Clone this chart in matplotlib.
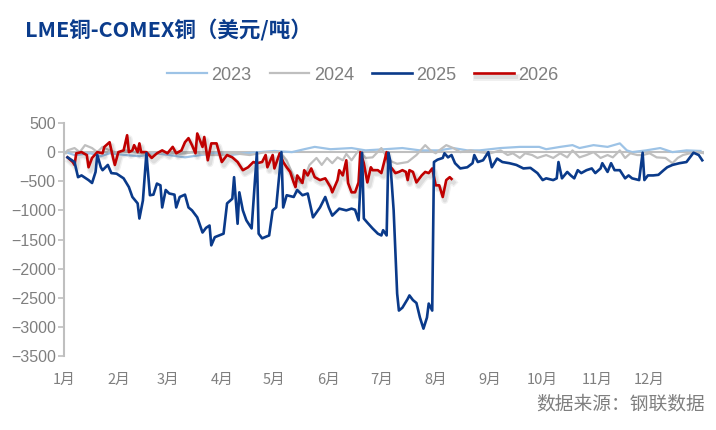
import matplotlib
matplotlib.use("Agg")
import matplotlib.pyplot as plt
import matplotlib.patheffects as pe

plt.rcParams['font.family'] = ['Liberation Sans', 'Noto Sans CJK SC', 'DejaVu Sans']
plt.rcParams['axes.unicode_minus'] = True

# day of year (0 = 1 Jan) and spread in USD/t
days_2023 = [1, 6, 15, 21, 26, 35, 43, 52, 60, 69, 78, 86, 95, 103, 112, 120, 130, 137, 143, 152,
             164, 172, 183, 193, 203, 214, 222, 230, 237, 249, 260, 264, 271, 275, 283, 290, 294,
             302, 310, 317, 321, 324, 332, 340, 347, 355, 363]
vals_2023 = [0, -50, -20, -70, -20, -50, -70, -20, -50, -90, -50, -20, -50, -20, 0, 20, 0, 50, 90, 50,
             70, 30, 50, 70, 30, 30, 70, 30, 30, 70, 90, 90, 90, 50, 90, 120, 70,
             120, 90, 150, 30, 0, 30, 70, 0, 30, 20]

days_2024 = [1, 2, 6, 9, 12, 16, 19, 22, 26, 31, 35, 40, 49, 58, 66, 75, 83, 89, 97, 106, 115, 123,
             127, 129, 131, 135, 137, 140, 144, 147, 150, 153, 156, 159, 161, 164, 168, 172, 176,
             181, 185, 190, 196, 201, 206, 209, 212, 214, 218, 222, 226, 232, 237, 243, 249, 253,
             256, 260, 263, 267, 270, 275, 279, 283, 287, 290, 294, 298, 302, 306, 310, 313, 317,
             320, 323, 327, 330, 334, 338, 343, 347, 350, 353, 357, 361, 365]
vals_2024 = [-20, 30, 70, 0, 120, 70, 0, 90, 30, -20, 30, 0, -50, 0, -30, 0, -50, -50, -20, -50, 0, 0,
             -140, -280, -430, -530, -450, -220, -100, -220, -100, -190, -90, -140, -30, -140, 30, -100, -90,
             70, -140, -200, -170, -50, 120, 30, -20, 30, 120, 70, 0, 30, 0, -20, 30, -50,
             -20, -100, -20, -50, -100, -50, -100, -20, -90, 30, -90, -50, 0, -100, -50, -90, 30,
             -100, -20, -50, -50, -20, -90, -100, -190, -100, -50, -20, 0, -20]

days_2025 = [2, 6, 8, 10, 14, 16, 18, 19, 21, 22, 25, 27, 30, 34, 37, 39, 42, 43, 45, 47, 49, 51, 53,
             55, 56, 58, 60, 63, 64, 66, 69, 71, 73, 76, 79, 81, 83, 84, 86, 91, 93, 96, 97, 99, 100,
             102, 104, 107, 108, 110, 111, 113, 117, 119, 121, 124, 125, 127, 131, 133, 136, 139,
             142, 146, 149, 151, 153, 157, 161, 164, 166, 168, 170, 171, 173, 176, 179, 181, 182,
             184, 185, 186, 188, 190, 191, 193, 196, 197, 199, 201, 203, 205, 207, 208, 210, 211,
             213, 216, 217, 219, 221, 223, 226, 230, 233, 234, 236, 239, 242, 244, 247, 250, 254,
             258, 262, 266, 270, 273, 275, 279, 281, 282, 284, 287, 289, 291, 293, 295, 298, 301,
             303, 306, 307, 310, 312, 314, 317, 320, 322, 324, 328, 330, 331, 333, 336, 339, 342,
             344, 347, 351, 355, 357, 359, 362, 364]
vals_2025 = [-90, -170, -430, -400, -480, -530, -340, -50, -260, -310, -220, -360, -370, -450, -600,
             -770, -880, -1140, -830, -20, -740, -730, -540, -570, -950, -650, -710, -730, -950,
             -770, -730, -950, -1000, -1120, -1380, -1300, -1260, -1600, -1460, -1400, -880, -800,
             -430, -1230, -690, -1000, -1170, -1310, -880, -10, -1400, -1480, -1430, -1000, -950,
             0, -950, -740, -770, -650, -740, -710, -1120, -950, -770, -950, -1090, -970, -1000,
             -970, -990, -1170, -10, -1140, -1210, -1310, -1400, -1430, -1340, -1430, -10, -140,
             -1000, -2430, -2720, -2670, -2520, -2460, -2540, -2590, -2840, -3030, -2840, -2600,
             -2720, -170, -130, -100, -20, -90, -50, -190, -280, -260, -190, -50, -170, -140, 0,
             -260, -110, -170, -190, -220, -280, -270, -360, -480, -450, -480, -450, -170, -450,
             -340, -400, -450, -310, -360, -310, -280, -360, -280, -190, -340, -190, -310, -310,
             -450, -400, -450, -480, -10, -480, -400, -400, -390, -310, -260, -220, -190, -170,
             -90, -10, -50, -140]

days_2026 = [2, 5, 6, 7, 10, 13, 14, 16, 19, 22, 23, 26, 28, 29, 31, 34, 36, 37, 39, 40, 42, 43, 44,
             47, 50, 53, 56, 59, 62, 64, 67, 69, 71, 73, 75, 76, 79, 80, 82, 84, 87, 90, 93, 96, 99,
             102, 105, 108, 110, 113, 115, 116, 119, 120, 123, 125, 127, 129, 131, 132, 133, 136,
             137, 139, 141, 143, 146, 149, 152, 153, 156, 157, 159, 161, 162, 164, 166, 168, 169,
             171, 173, 175, 176, 179, 181, 184, 185, 187, 189, 191, 193, 195, 196, 197, 199, 201,
             204, 206, 208, 210, 212, 214, 216, 218, 220, 221]
vals_2026 = [-90, -170, -220, -20, 0, -50, -260, -100, 0, -20, 90, 170, -100, -220, 0, 30, 290, 0, 30,
             120, 0, 150, 0, 0, -100, -20, 30, -20, 90, -20, 30, 170, 240, 120, -20, 320, 90, 260,
             -140, 150, 150, -170, -50, -90, -170, -310, -260, -170, -190, -170, -50, -260, -50,
             -280, -20, -170, -260, -340, -520, -600, -400, -530, -310, -400, -280, -430, -480,
             -450, -600, -690, -480, -310, -400, -140, -530, -690, -690, -520, 0, -190, -520, -260,
             -310, -310, -360, 0, -220, -280, -360, -340, -310, -340, -480, -310, -340, -520, -400,
             -340, -360, -280, -570, -570, -770, -480, -430, -460]

years = ['2023', '2024', '2025', '2026']
month_starts = [0, 31, 59, 90, 120, 151, 181, 212, 243, 273, 304, 334]
month_labels = [f'{m}月' for m in range(1, 13)]
y_ticks = list(range(500, -4000, -500))

c2023, c2024, c2025, c2026 = '#9DC3E6', '#BFBFBF', '#0A3A8A', '#C00000'
axis_gray = '#BFBFBF'
text_gray = '#7F7F7F'

fig = plt.figure(figsize=(7.16, 4.30), dpi=100)
ax = fig.add_axes([64 / 716, 1 - 356 / 430, 640 / 716, 233 / 430])

ax.axhline(0, color=axis_gray, lw=1.5, zorder=1)
l23, = ax.plot(days_2023, vals_2023, color=c2023, lw=1.6, zorder=2)
l24, = ax.plot(days_2024, vals_2024, color=c2024, lw=1.6, zorder=3)
# soft drop shadow under the 2026 line
shadow = [pe.SimpleLineShadow(offset=(1.5, -2.5), shadow_color='#000000', alpha=0.06, linewidth=5),
          pe.SimpleLineShadow(offset=(1.5, -2.5), shadow_color='#000000', alpha=0.08, linewidth=3),
          pe.Normal()]
l26, = ax.plot(days_2026, vals_2026, color=c2026, lw=1.9, zorder=4, path_effects=shadow)
l25, = ax.plot(days_2025, vals_2025, color=c2025, lw=1.9, zorder=5)

ax.set_xlim(0, 365)
ax.set_ylim(-3500, 500)
ax.set_yticks(y_ticks)
ax.set_yticklabels([str(v).replace('-', '\u2212') for v in y_ticks])
ax.set_xticks(month_starts)
ax.set_xticklabels(month_labels)

for s in ['top', 'right', 'bottom']:
    ax.spines[s].set_visible(False)
ax.spines['left'].set_color(axis_gray)
ax.spines['left'].set_linewidth(1.5)
ax.tick_params(axis='y', colors=axis_gray, labelcolor=text_gray, labelsize=11.5, length=4, width=1.2,
               direction='out', pad=2)
ax.tick_params(axis='x', length=0, labelcolor=text_gray, labelsize=10.5, pad=12)
for lab in ax.get_xticklabels():
    lab.set_family(['Noto Sans CJK SC', 'DejaVu Sans'])

fig.text(25 / 716, 1 - 30 / 430, 'LME铜-COMEX铜（美元/吨）', color='#0B3C8C', fontsize=15.5,
         fontweight='bold', va='center', ha='left', family=['Noto Sans CJK SC', 'DejaVu Sans'])

fig.legend([l23, l24, l25, l26], years, loc='center', bbox_to_anchor=(363 / 716, 1 - 75 / 430),
           ncol=4, frameon=False, handlelength=2.2, handletextpad=0.25, columnspacing=1.0,
           labelcolor=text_gray, prop={'family': 'Liberation Sans', 'size': 13})

fig.text(705 / 716, 1 - 404 / 430, '数据来源：钢联数据', color=text_gray, fontsize=13.5,
         ha='right', va='center', family=['Noto Sans CJK SC', 'DejaVu Sans'])

fig.savefig('out.png', dpi=100)
